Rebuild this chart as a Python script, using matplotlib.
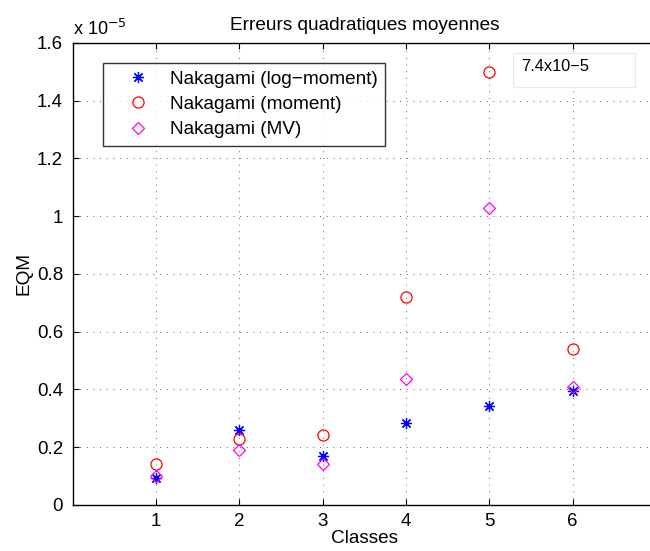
import numpy as np
import matplotlib
matplotlib.use('Agg')
import matplotlib.pyplot as plt
from matplotlib.patches import Rectangle
from matplotlib.ticker import FuncFormatter

plt.rcParams['font.family'] = ['Liberation Sans', 'DejaVu Sans']

classes = [1, 2, 3, 4, 5, 6]
eqm_logmoment = [0.094e-5, 0.26e-5, 0.17e-5, 0.283e-5, 0.343e-5, 0.396e-5]
eqm_moment = [0.143e-5, 0.227e-5, 0.243e-5, 0.721e-5, 7.4e-5, 0.54e-5]
eqm_mv = [0.102e-5, 0.19e-5, 0.141e-5, 0.436e-5, 1.027e-5, 0.407e-5]
labels = ['Nakagami (log\u2212moment)', 'Nakagami (moment)', 'Nakagami (MV)']

# the moment estimate for class 5 is far off scale, draw it at the top and note its value
y_cap = 1.5e-5
moment_drawn = np.minimum(eqm_moment, y_cap)

fig = plt.figure(figsize=(6.5, 5.51), dpi=100)
ax = fig.add_axes([0.112, 0.0835, 0.897, 0.8385])

ax.plot(classes, eqm_logmoment, linestyle='none', marker=(8, 2, 0), ms=8,
        mec='blue', mew=0.9, label=labels[0])
ax.plot(classes, moment_drawn, linestyle='none', marker='o', ms=8,
        mfc='none', mec='red', mew=0.9, label=labels[1])
ax.plot(classes, eqm_mv, linestyle='none', marker='D', ms=6.5,
        mfc='none', mec='magenta', mew=0.9, label=labels[2])

ax.set_xlim(0, 7)
ax.set_ylim(0, 1.6e-5)
ax.set_xticks(classes)
ax.set_yticks(np.arange(0, 1.61e-5, 0.2e-5))
ax.yaxis.set_major_formatter(FuncFormatter(lambda v, p: '%g' % round(v / 1e-5, 2)))
ax.grid(True, linestyle=(0, (1, 7)), color='#333333', linewidth=0.6)
ax.tick_params(direction='in', length=4, width=0.8, labelsize=13.5, top=True, right=True, pad=7)
ax.tick_params(axis='x', pad=6)
for s in ax.spines.values():
    s.set_linewidth(1.0)

ax.text(0.0, 1.008, 'x 10$^{-5}$', transform=ax.transAxes, fontsize=13, ha='left', va='bottom')
ax.set_title('Erreurs quadratiques moyennes', fontsize=13.7, pad=9)
ax.set_xlabel('Classes', fontsize=13.7, labelpad=0)
ax.set_ylabel('EQM', fontsize=13.7, labelpad=3)

# note box for the off-scale value
ax.add_patch(Rectangle((0.755, 0.905), 0.209, 0.0736, transform=ax.transAxes,
                       fc='white', ec='#e8e8e8', lw=0.8, zorder=4))
ax.text(0.7686, 0.949, '7.4x10\u22125', transform=ax.transAxes, fontsize=11.8,
        ha='left', va='center', zorder=5)

leg = ax.legend(loc='upper left', bbox_to_anchor=(0.052, 0.957), borderaxespad=0,
                fontsize=13.7, frameon=True, fancybox=False, edgecolor='black',
                borderpad=0.4, handletextpad=0.2, labelspacing=0.42, handlelength=2.9)
leg.get_frame().set_linewidth(1.0)

fig.savefig('out.png', dpi=100)
